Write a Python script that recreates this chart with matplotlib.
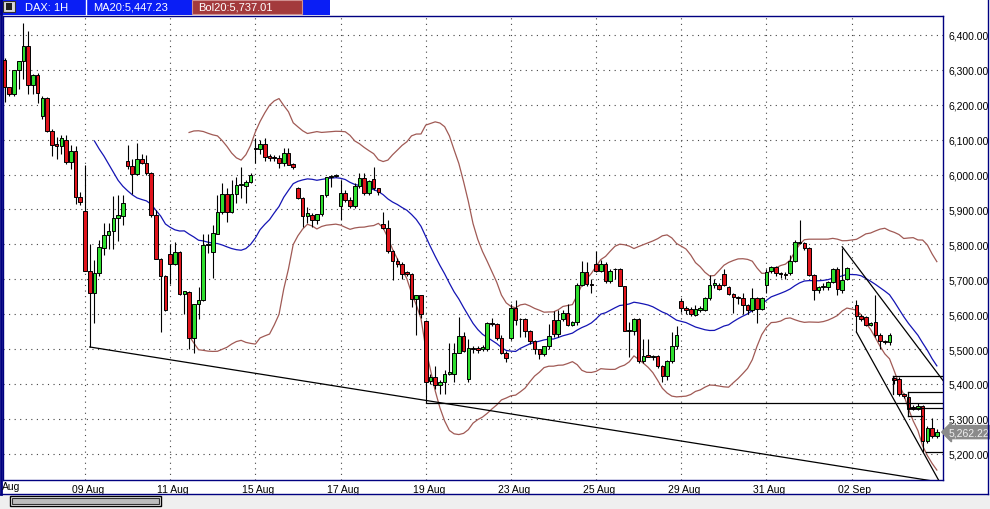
import numpy as np
import pandas as pd
import matplotlib.pyplot as plt
from matplotlib.patches import Rectangle
import matplotlib.transforms as mtransforms

plt.rcParams['font.family'] = ['Liberation Sans', 'DejaVu Sans']

# hourly DAX bars, 05 Aug - 05 Sep (nan = empty slot)
nan = np.nan
opens = [6329, 6250, 6231, 6298, 6324, 6368, 6257, 6284,
         6169, 6219, 6126, 6088, 6081, 6100, 6035, 6066, 5935,
         5895, 5725, 5660, 5718, 5790, 5828, 5837, 5875, 5882,
         6040, 6024, 6001, 6043, 6033, 6005, 5883, 5759, 5709,
         5773, 5745, 5778, 5658, 5663, 5532, 5630, 5641, 5797,
         5778, 5831, 5893, 5945, 5893, 5945, 5969, 5966, 5979,
         6077, 6072, 6088, 6053, 6051, 6046, 6032, 6061, 6029,
         5962, 5933, 5882, 5884, 5869, 5888, 5941, 5993, 5997,
         5910, 5948, 5927, 5910, 5968, 5989, 5948, 5986, 5960,
         5857, 5847, 5781, 5752, 5743, 5721, 5716, 5643, 5656,
         5581, 5409, 5421, 5396, 5406, 5430, 5428, 5490, 5538,
         5413, 5504, 5504, 5501, 5501, 5576, 5571, 5533, 5490,
         5532, 5617, 5585, 5585, 5551, 5522, 5499, 5486, 5508,
         5582, 5542, 5585, 5604, 5570, 5577, 5683, 5720, 5685,
         5745, 5725, 5745, 5694, 5730, 5728, 5680, 5553, 5553,
         5585, 5467, 5483, 5478, 5481, 5451, 5424, 5467, 5508,
         5637, 5617, 5615, 5598, 5611, 5611, 5646, 5684, 5684,
         5716, 5678, 5659, 5649, 5646, 5625, 5611, 5646, 5616,
         5684, 5725, 5735, 5718, 5716, 5718, 5751, 5804, 5804,
         5790, 5713, 5668, 5678, 5678, 5692, 5730, 5668, 5702,
         nan, 5625, 5594, 5592, 5570, 5578, 5541, 5522, 5519,
         5416, 5414, 5371, 5363, 5333, 5328, 5336, 5237, 5273, 5250]
highs = [6335, 6252, 6300, 6326, 6434, 6410, 6288, 6290,
         6225, 6222, 6130, 6107, 6112, 6112, 6085, 6081, 5950,
         6028, 5800, 5756, 5813, 5860, 5860, 5938, 5940, 5940,
         6085, 6043, 6090, 6060, 6057, 6008, 5897, 5762, 5712,
         5802, 5807, 5780, 5666, 5665, 5630, 5677, 5830, 5830,
         5855, 5940, 5975, 5962, 5985, 5993, 6021, 5984, 6005,
         6104, 6100, 6104, 6060, 6055, 6055, 6077, 6077, 6032,
         5965, 5935, 5908, 5890, 5888, 5941, 5993, 5998, 6001,
         5984, 5955, 5935, 5975, 6003, 6003, 5985, 6021, 5962,
         5893, 5870, 5785, 5760, 5750, 5725, 5718, 5656, 5656,
         5582, 5430, 5452, 5410, 5440, 5518, 5518, 5591, 5548,
         5530, 5510, 5510, 5512, 5578, 5590, 5575, 5540, 5495,
         5630, 5640, 5590, 5590, 5555, 5525, 5500, 5510, 5572,
         5610, 5612, 5612, 5630, 5580, 5690, 5753, 5750, 5702,
         5781, 5755, 5750, 5730, 5733, 5733, 5682, 5577, 5590,
         5590, 5530, 5530, 5484, 5484, 5455, 5470, 5548, 5565,
         5645, 5622, 5620, 5625, 5622, 5650, 5712, 5700, 5690,
         5730, 5682, 5662, 5652, 5660, 5630, 5675, 5650, 5650,
         5730, 5738, 5738, 5722, 5722, 5770, 5812, 5869, 5806,
         5792, 5715, 5680, 5690, 5696, 5732, 5735, 5790, 5735,
         nan, 5640, 5600, 5595, 5578, 5655, 5545, 5525, 5545,
         5420, 5420, 5375, 5370, 5340, 5345, 5340, 5280, 5304, 5270]
lows = [6207, 6226, 6225, 6245, 6274, 6231, 6231, 6205,
        6160, 6121, 6054, 6044, 6060, 6030, 6016, 5916, 5912,
        5725, 5506, 5574, 5708, 5770, 5786, 5786, 5810, 5856,
        6015, 5945, 5998, 6030, 6000, 5878, 5759, 5548, 5608,
        5687, 5740, 5654, 5600, 5500, 5490, 5585, 5639, 5775,
        5704, 5829, 5888, 5864, 5890, 5917, 5933, 5917, 5975,
        6032, 6060, 6040, 6040, 6040, 6020, 6025, 6027, 6015,
        5930, 5850, 5860, 5850, 5858, 5880, 5935, 5965, 5993,
        5869, 5920, 5905, 5905, 5960, 5940, 5940, 5955, 5940,
        5845, 5775, 5697, 5735, 5700, 5710, 5620, 5539, 5590,
        5346, 5400, 5387, 5372, 5372, 5425, 5405, 5490, 5491,
        5405, 5490, 5490, 5495, 5495, 5565, 5525, 5485, 5462,
        5525, 5570, 5535, 5535, 5515, 5487, 5471, 5480, 5500,
        5535, 5535, 5580, 5565, 5565, 5570, 5680, 5680, 5660,
        5722, 5720, 5690, 5690, 5700, 5680, 5553, 5477, 5540,
        5460, 5460, 5478, 5470, 5445, 5405, 5412, 5460, 5500,
        5605, 5600, 5596, 5596, 5605, 5608, 5640, 5675, 5670,
        5680, 5655, 5602, 5630, 5600, 5600, 5605, 5575, 5612,
        5660, 5718, 5710, 5705, 5700, 5712, 5748, 5800, 5785,
        5710, 5640, 5660, 5670, 5670, 5690, 5655, 5660, 5698,
        nan, 5549, 5580, 5565, 5565, 5535, 5500, 5515, 5512,
        5400, 5365, 5360, 5320, 5325, 5325, 5204, 5230, 5245, 5245]
closes = [6250, 6231, 6298, 6324, 6368, 6257, 6284, 6234,
          6219, 6126, 6085, 6081, 6104, 6035, 6066, 5935, 5922,
          5725, 5660, 5718, 5792, 5828, 5837, 5875, 5885, 5918,
          6024, 6001, 6043, 6034, 6005, 5883, 5759, 5709, 5612,
          5745, 5778, 5658, 5666, 5532, 5630, 5641, 5797, 5802,
          5832, 5892, 5945, 5893, 5945, 5969, 5974, 5979, 6000,
          6072, 6088, 6051, 6048, 6046, 6032, 6061, 6027, 6022,
          5933, 5882, 5890, 5869, 5888, 5941, 5993, 5997, 5998,
          5948, 5927, 5910, 5968, 5989, 5948, 5981, 5962, 5951,
          5847, 5781, 5752, 5743, 5716, 5716, 5643, 5656, 5601,
          5406, 5421, 5396, 5406, 5428, 5433, 5490, 5538, 5495,
          5504, 5499, 5497, 5507, 5576, 5571, 5533, 5490, 5475,
          5617, 5582, 5585, 5551, 5522, 5499, 5486, 5508, 5537,
          5542, 5582, 5604, 5570, 5577, 5683, 5720, 5685, 5683,
          5725, 5745, 5694, 5725, 5728, 5682, 5553, 5555, 5587,
          5465, 5481, 5478, 5481, 5451, 5424, 5467, 5508, 5539,
          5617, 5612, 5601, 5616, 5617, 5646, 5684, 5688, 5673,
          5683, 5659, 5649, 5646, 5625, 5611, 5646, 5616, 5646,
          5721, 5735, 5718, 5716, 5712, 5751, 5807, 5806, 5790,
          5713, 5668, 5678, 5680, 5692, 5730, 5673, 5697, 5732,
          nan, 5594, 5587, 5568, 5575, 5541, 5522, 5520, 5540,
          5412, 5371, 5366, 5328, 5328, 5336, 5237, 5273, 5250, 5262.22]

tick_pos = [17, 35, 53, 71, 89, 107, 125, 143, 161, 179]
tick_labels = ['09 Aug', '11 Aug', '15 Aug', '17 Aug', '19 Aug',
               '23 Aug', '25 Aug', '29 Aug', '31 Aug', '02 Sep']
price_ticks = list(range(5200, 6401, 100))

# user drawn lines: ((bar, price), (bar, price))
drawn_lines = [((18, 5506), (197.6, 5119)),
               ((89, 5346), (198.3, 5346)),
               ((177, 5793), (198.3, 5410)),
               ((180, 5549), (197.6, 5119)),
               ((187.7, 5424), (198.3, 5424)),
               ((190.8, 5376), (198.3, 5376)),
               ((190.8, 5330), (198.3, 5330)),
               ((190.8, 5308), (193.8, 5308)),
               ((194.8, 5206), (198.3, 5206)),
               ((187.7, 5424), (187.7, 5372)),
               ((190.8, 5376), (190.8, 5308))]

ma_period = 20
bb_start = 39

UP = '#2ede2e'
DOWN = '#e0141c'
NAVY = '#000080'

fig = plt.figure(figsize=(9.9, 5.1), dpi=100)
ax = fig.add_axes([3 / 990, 29 / 510, 940 / 990, 464 / 510])

n = len(closes)
for i in range(n):
    o, h, l, c = opens[i], highs[i], lows[i], closes[i]
    if np.isnan(c):
        continue
    ax.vlines(i, l, h, color='black', lw=0.8, zorder=3)
    col = UP if c >= o else DOWN
    lo_b = min(o, c)
    hi_b = max(o, c)
    ax.add_patch(Rectangle((i - 0.38, lo_b), 0.76, max(hi_b - lo_b, 0.5),
                           facecolor=col, edgecolor='black', lw=0.7, zorder=4))

s = pd.Series(closes).dropna()
ma = s.rolling(ma_period).mean()
sd = s.rolling(ma_period).std(ddof=0)
ax.plot(ma.index, ma.values, color='#1414b4', lw=0.9, zorder=2)
up_band = (ma + 2 * sd)[s.index >= bb_start]
lo_band = (ma - 2 * sd)[s.index >= bb_start]
ax.plot(up_band.index, up_band.values, color='#a05a55', lw=0.9, zorder=2)
ax.plot(lo_band.index, lo_band.values, color='#a05a55', lw=0.9, zorder=2)

for (x0, y0), (x1, y1) in drawn_lines:
    ax.plot([x0, x1], [y0, y1], color='black', lw=0.9, zorder=5)

ax.set_xlim(-0.32, 198.3)
ax.set_ylim(5125, 6454)

for p in price_ticks:
    ax.axhline(p, color='#444444', lw=0.8, ls=(0, (1, 4)), zorder=1)
for t in tick_pos:
    ax.axvline(t, color='#444444', lw=0.8, ls=(0, (1, 4)), zorder=1)

ax.yaxis.tick_right()
ax.set_yticks(price_ticks)
ax.set_yticklabels(['{:,.2f}'.format(p) for p in price_ticks], fontsize=7.5)
ax.set_xticks(tick_pos)
ax.set_xticklabels(tick_labels, fontsize=7.5)
ax.tick_params(axis='y', length=0, pad=4)
ax.tick_params(axis='x', length=0, pad=3)
shift = mtransforms.ScaledTranslation(3 / 100, 0, fig.dpi_scale_trans)
for lbl in ax.get_xticklabels():
    lbl.set_transform(lbl.get_transform() + shift)
for sp in ax.spines.values():
    sp.set_color(NAVY)
    sp.set_linewidth(1)

# clipped first date label
fig.text(2 / 990, 1 - 487 / 510, 'Aug', fontsize=7.5, va='center', ha='left')

# last price marker
tr = mtransforms.blended_transform_factory(ax.transAxes, ax.transData)
ax.text(1.006, closes[-1], '{:,.2f}'.format(closes[-1]), transform=tr,
        fontsize=7.5, color='#f0f0f0', va='center', ha='left', zorder=6,
        bbox=dict(boxstyle='larrow,pad=0.15', fc='#8a8a8a', ec='#8a8a8a'))

# bottom frame and scrollbar
fig.add_artist(plt.Line2D([0, 988 / 990], [1 - 495 / 510] * 2, color=NAVY, lw=1))
fig.add_artist(plt.Line2D([988 / 990] * 2, [1 - 495 / 510, 1], color=NAVY, lw=1))
fig.add_artist(plt.Line2D([1 / 990] * 2, [1 - 495 / 510, 1], color=NAVY, lw=2))
fig.add_artist(Rectangle((0, 0), 1, 14 / 510, transform=fig.transFigure,
                         fc='#efefef', ec='none'))
fig.add_artist(Rectangle((10 / 990, 3 / 510), 151 / 990, 10 / 510,
                         transform=fig.transFigure, fc='white', ec='black', lw=1))
fig.add_artist(Rectangle((12 / 990, 5 / 510), 147 / 990, 6 / 510,
                         transform=fig.transFigure, fc='#bdbdbd', ec='#333333', lw=0.8))

# header bar
fig.add_artist(Rectangle((0, 1 - 16 / 510), 330 / 990, 16 / 510, transform=fig.transFigure,
                         fc='#0a1ef5', ec='none'))
fig.add_artist(Rectangle((3 / 990, 1 - 13 / 510), 12 / 990, 11 / 510,
                         transform=fig.transFigure, fc='#d8d8d8', ec='#303030', lw=0.8))
fig.add_artist(Rectangle((6 / 990, 1 - 11 / 510), 6 / 990, 7 / 510,
                         transform=fig.transFigure, fc='#202020', ec='none'))
fig.add_artist(plt.Line2D([86 / 990] * 2, [1 - 15 / 510, 1 - 1 / 510], color='white', lw=1))
fig.add_artist(Rectangle((192 / 990, 1 - 15 / 510), 110 / 990, 14 / 510,
                         transform=fig.transFigure, fc='#a33a3c', ec='#d09090', lw=0.8))
hy = 1 - 8 / 510
fig.text(25 / 990, hy, 'DAX: 1H', color='white', fontsize=8, va='center')
fig.text(93 / 990, hy, 'MA20:5,447.23', color='white', fontsize=8, va='center')
fig.text(198 / 990, hy, 'Bol20:5,737.01', color='white', fontsize=8, va='center')

fig.savefig('out.png', dpi=100)
